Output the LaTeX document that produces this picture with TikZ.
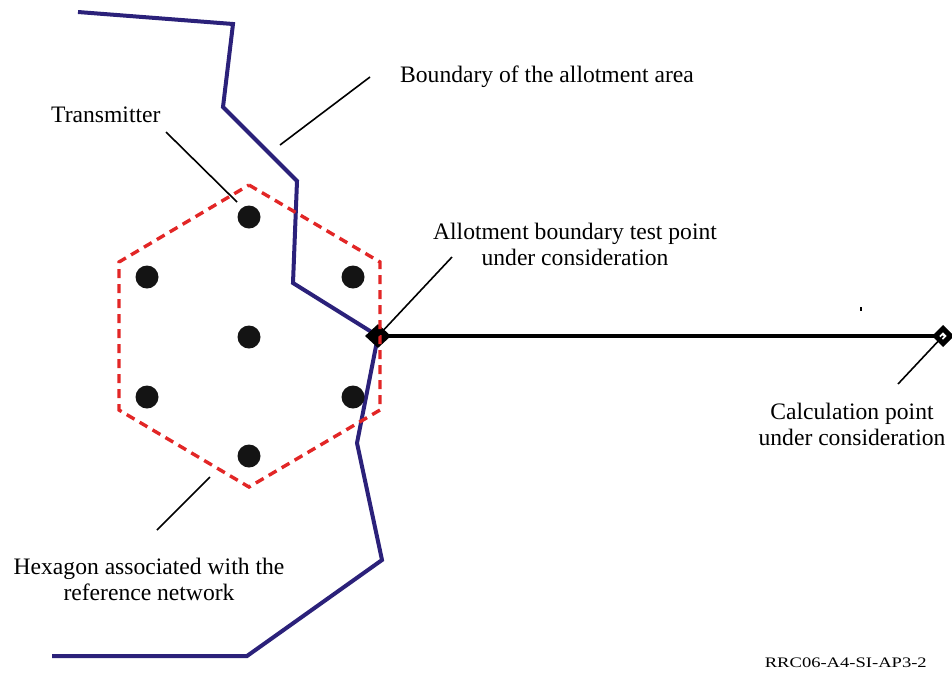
\documentclass[tikz,border=0pt]{standalone}
\usepackage{fontspec}
\setmainfont{Liberation Serif}
\usetikzlibrary{shapes.geometric}
\definecolor{bndblue}{RGB}{43,33,122}
\definecolor{hexred}{RGB}{226,38,38}
\tikzset{
  boundary/.style={draw=bndblue, line width=4pt, line join=miter},
  hexline/.style={draw=hexred, line width=3.4pt, dash pattern=on 9pt off 6pt},
  txdot/.style={circle, fill=black!92, minimum size=23pt, inner sep=0pt},
  testmark/.style={diamond, fill=black, minimum width=26pt, minimum height=24pt, inner sep=0pt},
  calcmark/.style={diamond, draw=black, line width=5pt, fill=white, minimum width=17pt, minimum height=17pt, inner sep=0pt},
  path line/.style={draw=black, line width=4pt},
  leader/.style={draw=black, line width=1.6pt},
  lbl/.style={inner sep=0pt, font=\fontsize{23.6}{25.5}\selectfont, align=center},
}
\begin{document}
\begin{tikzpicture}[x=1pt, y=-1pt]
\useasboundingbox (0,0) rectangle (952,673);

% markers of the test point and of the calculation point
\coordinate (tpc) at (378,336);
\coordinate (cpc) at (943,336);

% propagation path from test point to calculation point
\draw[path line] (tpc) -- (cpc);

% boundary of the allotment area
\coordinate (b1) at (78,12);
\coordinate (b2) at (233,24);
\coordinate (b3) at (223,107);
\coordinate (b4) at (297,181);
\coordinate (b5) at (293,283);
\coordinate (b6) at (357,443);
\coordinate (b7) at (382,560);
\coordinate (b8) at (247,656);
\coordinate (b9) at (52,656);
\draw[boundary] (b1) -- (b2) -- (b3) -- (b4) -- (b5) -- (tpc) -- (b6) -- (b7) -- (b8) -- (b9);

\node[testmark] (tp) at (tpc) {};
\node[calcmark] (cp) at (cpc) {};

% hexagon of the reference network
\coordinate (h1) at (249,185);
\coordinate (h2) at (380,262);
\coordinate (h3) at (380,410);
\coordinate (h4) at (249,487);
\coordinate (h5) at (119,410);
\coordinate (h6) at (119,262);
\draw[hexline] (h1) -- (h2) -- (h3) -- (h4) -- (h5) -- (h6) -- cycle;

% transmitters
\node[txdot] (t1) at (249,217) {};
\node[txdot] (t2) at (147,277) {};
\node[txdot] (t3) at (353,277) {};
\node[txdot] (t4) at (249,337) {};
\node[txdot] (t5) at (147,397) {};
\node[txdot] (t6) at (353,397) {};
\node[txdot] (t7) at (249,456) {};

% labels (base anchor sits on the last line)
\node[lbl, anchor=base west] (ltx) at (51,122) {Transmitter};
\node[lbl, anchor=base west] (lbd) at (400,82) {Boundary of the allotment area};
\node[lbl, anchor=base] (ltp) at (575,265) {Allotment boundary test point\\under consideration};
\node[lbl, anchor=base] (lcp) at (852,445) {Calculation point\\under consideration};
\node[lbl, anchor=base] (lhx) at (149,600) {Hexagon associated with the\\reference network};
\node[inner sep=0pt, anchor=base east, xscale=1.28, font=\fontsize{14.5}{16}\selectfont] (ref) at (927,667) {RRC06-A4-SI-AP3-2};

% leader lines
\coordinate (ltx0) at (166,132);
\coordinate (ltx1) at (237,202);
\coordinate (lbd0) at (370,77);
\coordinate (lbd1) at (280,145);
\coordinate (ltp0) at (452,257);
\coordinate (lcp0) at (898,384);
\coordinate (lhx0) at (157,530);
\coordinate (lhx1) at (210,477);
\draw[leader] (ltx0) -- (ltx1);
\draw[leader] (lbd0) -- (lbd1);
\draw[leader] (ltp0) -- (tp.center);
\draw[leader] (lcp0) -- (cp.center);
\draw[leader] (lhx0) -- (lhx1);

% small stray mark
\coordinate (sm) at (861,309);
\draw[line width=1.2pt] (sm) ++(0,-2) -- ++(0,4);
\end{tikzpicture}
\end{document}
